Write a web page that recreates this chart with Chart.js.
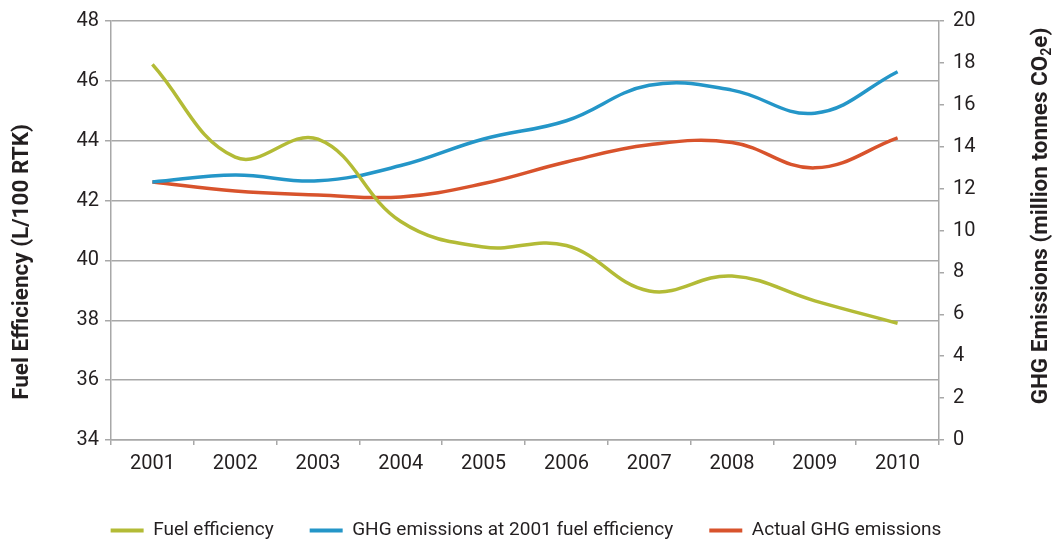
<!DOCTYPE html>
<html>
<head>
<meta charset="utf-8">
<script src="https://cdn.jsdelivr.net/npm/chart.js@4.4.1/dist/chart.umd.min.js"></script>
<style>
  html, body { margin: 0; padding: 0; background: #fff; }
  #wrap { width: 1052px; height: 542px; }
</style>
</head>
<body>
<div id="wrap"><canvas id="chart"></canvas></div>
<script>
// values
const years = ["2001", "2002", "2003", "2004", "2005", "2006", "2007", "2008", "2009", "2010"];
const fuelEfficiency = [46.55, 43.45, 44.05, 41.3, 40.45, 40.5, 38.98, 39.48, 38.65, 37.9];
const ghgAt2001 = [12.32, 12.65, 12.37, 13.1, 14.37, 15.24, 16.93, 16.7, 15.6, 17.58];
const ghgActual = [12.32, 11.88, 11.7, 11.6, 12.24, 13.27, 14.09, 14.2, 12.99, 14.42];

const textColor = "#231f20";
const gridColor = "#a8a8a8";
const font = "Roboto, 'Liberation Sans', sans-serif";

Chart.defaults.font.family = font;
Chart.defaults.color = textColor;

// axis titles, both read bottom to top
const axisTitles = {
  id: "axisTitles",
  afterDraw(chart) {
    const ctx = chart.ctx;
    ctx.save();
    ctx.fillStyle = textColor;
    ctx.textBaseline = "middle";
    ctx.textAlign = "left";

    ctx.font = "bold 22.5px " + font;
    ctx.save();
    ctx.translate(22, 262);
    ctx.rotate(-Math.PI / 2);
    const left = "Fuel Efficiency (L/100 RTK)";
    ctx.fillText(left, -ctx.measureText(left).width / 2, 0);
    ctx.restore();

    // right title with subscript 2
    const a = "GHG Emissions (million tonnes CO";
    const b = "2";
    const c = "e)";
    ctx.save();
    ctx.translate(1041, 216);
    ctx.rotate(-Math.PI / 2);
    ctx.font = "bold 22.5px " + font;
    const wa = ctx.measureText(a).width;
    const wc = ctx.measureText(c).width;
    ctx.font = "bold 14px " + font;
    const wb = ctx.measureText(b).width;
    let x = -(wa + wb + wc) / 2;
    ctx.font = "bold 22.5px " + font;
    ctx.fillText(a, x, 0);
    x += wa;
    ctx.font = "bold 14px " + font;
    ctx.fillText(b, x, 6);
    x += wb;
    ctx.font = "bold 22.5px " + font;
    ctx.fillText(c, x, 0);
    ctx.restore();

    ctx.restore();
  }
};

const lineSet = (label, data, color, axis) => ({
  label: label,
  data: data,
  yAxisID: axis,
  borderColor: color,
  backgroundColor: color,
  borderWidth: 3.5,
  pointRadius: 0,
  tension: 0.4,
  fill: false
});

new Chart(document.getElementById("chart"), {
  type: "line",
  data: {
    labels: years,
    datasets: [
      lineSet("Fuel efficiency", fuelEfficiency, "#b3bb36", "y"),
      lineSet("GHG emissions at 2001 fuel efficiency", ghgAt2001, "#2496c8", "y1"),
      lineSet("Actual GHG emissions", ghgActual, "#d8532c", "y1")
    ]
  },
  options: {
    responsive: true,
    maintainAspectRatio: false,
    animation: false,
    layout: { padding: { left: 0, right: 0, top: 18, bottom: 0 } },
    plugins: {
      tooltip: { enabled: false },
      legend: {
        position: "bottom",
        maxHeight: 57,
        labels: {
          boxWidth: 33,
          boxHeight: 4,
          padding: 36,
          color: textColor,
          font: { size: 19, family: font },
          generateLabels(chart) {
            return Chart.defaults.plugins.legend.labels.generateLabels(chart).map(item => {
              item.fillStyle = item.strokeStyle;
              item.lineWidth = 0;
              return item;
            });
          }
        }
      }
    },
    scales: {
      x: {
        offset: true,
        afterFit(scale) { scale.height = 45; },
        grid: {
          offset: true,
          drawOnChartArea: false,
          drawTicks: true,
          tickLength: 5,
          color: gridColor,
          lineWidth: 1.5
        },
        border: { color: gridColor, width: 1.5 },
        ticks: { padding: 7, color: textColor, font: { size: 20 }, maxRotation: 0 }
      },
      y: {
        position: "left",
        min: 34,
        max: 48,
        afterFit(scale) { scale.width = 111; },
        grid: { color: gridColor, lineWidth: 1.5, tickLength: 6 },
        border: { color: gridColor, width: 1.5 },
        ticks: { stepSize: 2, padding: 6, color: textColor, font: { size: 20 } }
      },
      y1: {
        position: "right",
        min: 0,
        max: 20,
        afterFit(scale) { scale.width = 113; },
        grid: { drawOnChartArea: false, color: gridColor, lineWidth: 1.5, tickLength: 5 },
        border: { color: gridColor, width: 1.5 },
        ticks: { stepSize: 2, padding: 9, color: textColor, font: { size: 20 } }
      }
    }
  },
  plugins: [axisTitles]
});
</script>
</body>
</html>
